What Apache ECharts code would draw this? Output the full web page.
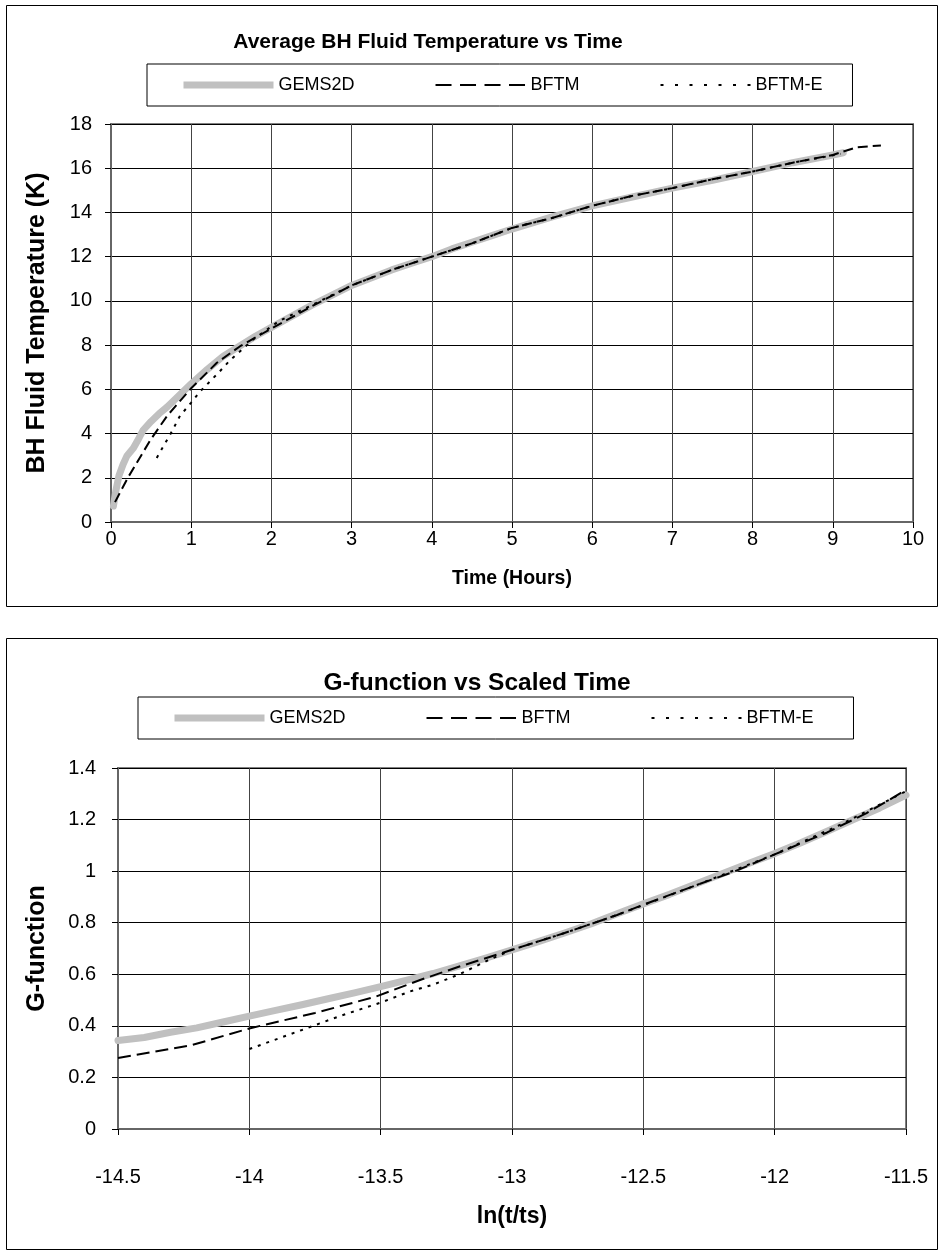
<!DOCTYPE html>
<html>
<head>
<meta charset="utf-8">
<script src="https://cdn.jsdelivr.net/npm/echarts@6/dist/echarts.min.js"></script>
<style>
  html, body { margin: 0; padding: 0; background: #fff; }
  #chart { width: 943px; height: 1253px; }
</style>
</head>
<body>
<div id="chart"></div>
<script>
const seriesNames = ['GEMS2D', 'BFTM', 'BFTM-E'];

// Average borehole fluid temperature (K) against time (hours)
const tempGems2d = [
  [0.03, 0.72], [0.06, 1.4], [0.1, 2.1], [0.15, 2.6], [0.2, 3.0], [0.28, 3.35],
  [0.35, 3.8], [0.4, 4.15], [0.5, 4.55], [0.6, 4.9], [0.7, 5.2], [0.8, 5.55],
  [0.9, 5.9], [1.0, 6.25], [1.2, 6.9], [1.4, 7.5], [1.6, 7.95], [1.8, 8.4],
  [2.0, 8.8], [2.25, 9.3], [2.5, 9.8], [2.75, 10.25], [3.0, 10.7], [3.25, 11.05],
  [3.5, 11.4], [3.75, 11.7], [4.0, 12.0], [4.25, 12.35], [4.5, 12.65], [4.75, 12.95],
  [5.0, 13.25], [5.5, 13.8], [6.0, 14.3], [6.5, 14.7], [7.0, 15.1], [7.5, 15.45],
  [8.0, 15.85], [8.5, 16.25], [9.0, 16.6], [9.13, 16.7]
];
const tempBftm = [
  [0.05, 0.9], [0.21, 2.0], [0.49, 3.7], [0.7, 4.8], [1.0, 6.05], [1.32, 7.2],
  [1.61, 7.95], [2.0, 8.75], [2.5, 9.75], [3.0, 10.7], [3.5, 11.4], [4.0, 12.0],
  [4.5, 12.6], [5.0, 13.3], [5.5, 13.75], [6.0, 14.3], [6.5, 14.75], [7.0, 15.1],
  [7.5, 15.5], [8.0, 15.85], [8.5, 16.25], [9.0, 16.6], [9.3, 16.95], [9.6, 17.03]
];
const tempBftmE = [
  [0.57, 2.9], [0.76, 4.1], [0.86, 4.8], [1.0, 5.4], [1.11, 5.9], [1.34, 6.75],
  [1.48, 7.3], [1.77, 8.25], [2.1, 9.1], [2.5, 9.8], [3.0, 10.7], [3.5, 11.4],
  [4.0, 12.0], [4.5, 12.6], [5.0, 13.3], [5.5, 13.75], [6.0, 14.3], [6.5, 14.75],
  [7.0, 15.1], [7.5, 15.5], [8.0, 15.85], [8.5, 16.25], [9.1, 16.65]
];

// G-function against scaled time ln(t/ts)
const gGems2d = [
  [-14.5, 0.343], [-14.4, 0.355], [-14.3, 0.375], [-14.2, 0.392], [-14.1, 0.415],
  [-14.0, 0.438], [-13.9, 0.46], [-13.8, 0.482], [-13.7, 0.505], [-13.6, 0.528],
  [-13.5, 0.552], [-13.4, 0.577], [-13.3, 0.603], [-13.2, 0.633], [-13.1, 0.663],
  [-13.0, 0.695], [-12.9, 0.727], [-12.8, 0.76], [-12.7, 0.795], [-12.6, 0.835],
  [-12.5, 0.873], [-12.4, 0.91], [-12.3, 0.95], [-12.2, 0.99], [-12.1, 1.03],
  [-12.0, 1.068], [-11.9, 1.11], [-11.8, 1.155], [-11.7, 1.2], [-11.6, 1.245],
  [-11.5, 1.295]
];
const gBftm = [
  [-14.5, 0.275], [-14.22, 0.325], [-14.0, 0.39], [-13.75, 0.45], [-13.52, 0.513],
  [-13.35, 0.578], [-13.2, 0.63], [-13.0, 0.695], [-12.8, 0.76], [-12.6, 0.83],
  [-12.5, 0.87], [-12.3, 0.945], [-12.15, 1.0], [-12.0, 1.065], [-11.8, 1.15],
  [-11.65, 1.225], [-11.5, 1.315]
];
const gBftmE = [
  [-14.0, 0.31], [-13.8, 0.384], [-13.65, 0.44], [-13.5, 0.49], [-13.39, 0.533],
  [-13.3, 0.56], [-13.2, 0.6], [-13.09, 0.655], [-13.0, 0.695], [-12.8, 0.76],
  [-12.6, 0.83], [-12.3, 0.945], [-12.0, 1.065], [-11.75, 1.18], [-11.5, 1.31]
];

const FONT = "'Liberation Sans', Arial, sans-serif";
const GREY = '#c0c0c0';

// line styles for each panel: [GEMS2D, BFTM, BFTM-E]
function panelStyles(dash) {
  return [
    { color: GREY, width: 7, type: 'solid', cap: 'round', join: 'round' },
    { color: '#000', width: 2, type: dash },
    { color: '#000', width: 2, type: [3, 6] }
  ];
}

function makeSeries(idx, sets, styles) {
  return sets.map((data, k) => ({
    name: seriesNames[k],
    type: 'line',
    xAxisIndex: idx,
    yAxisIndex: idx,
    data: data,
    symbol: 'none',
    silent: true,
    z: 2 + k,
    lineStyle: styles[k],
    itemStyle: { color: styles[k].color }
  }));
}

function xAxisCfg(idx, min, max, interval, name, nameSize, labelMargin, nameGap) {
  return {
    type: 'value', gridIndex: idx, min: min, max: max, interval: interval,
    name: name, nameLocation: 'middle', nameGap: nameGap,
    nameTextStyle: { fontFamily: FONT, fontSize: nameSize, fontWeight: 'bold', color: '#000' },
    axisLine: { show: true, onZero: false, lineStyle: { color: '#666', width: 2 } },
    axisTick: { show: true, length: 6, lineStyle: { color: '#000', width: 1 } },
    axisLabel: { fontFamily: FONT, fontSize: 20, color: '#000', margin: labelMargin },
    splitLine: { show: true, lineStyle: { color: '#444', width: 1 } }
  };
}

function yAxisCfg(idx, min, max, interval, name, labelMargin, nameGap) {
  return {
    type: 'value', gridIndex: idx, min: min, max: max, interval: interval,
    name: name, nameLocation: 'middle', nameGap: nameGap, nameRotate: 90,
    nameTextStyle: { fontFamily: FONT, fontSize: 25, fontWeight: 'bold', color: '#000' },
    axisLine: { show: true, onZero: false, lineStyle: { color: '#666', width: 2 } },
    axisTick: { show: true, length: 6, lineStyle: { color: '#000', width: 1 } },
    axisLabel: { fontFamily: FONT, fontSize: 20, color: '#000', margin: labelMargin },
    splitLine: { show: true, lineStyle: { color: '#000', width: 1 } }
  };
}

function legendCfg(left, top, padding) {
  return {
    left: left, top: top,
    data: [
      { name: 'GEMS2D', lineStyle: { cap: 'butt' } },
      { name: 'BFTM', lineStyle: { type: [16, 8.5] } },
      { name: 'BFTM-E', lineStyle: { type: [3, 11.5] } }
    ],
    padding: padding, itemGap: 80,
    itemWidth: 90, itemHeight: 14,
    borderColor: '#000', borderWidth: 1,
    selectedMode: false,
    itemStyle: { opacity: 0 },
    lineStyle: { width: 'inherit' },
    textStyle: { fontFamily: FONT, fontSize: 18, color: '#000' }
  };
}

const option = {
  backgroundColor: '#fff',
  animation: false,
  title: [
    { text: 'Average BH Fluid Temperature vs Time', left: 428, top: 32, padding: 0, textAlign: 'center',
      textStyle: { fontFamily: FONT, fontSize: 21, fontWeight: 'bold', color: '#000' } },
    { text: 'G-function vs Scaled Time', left: 477, top: 671, padding: 0, textAlign: 'center',
      textStyle: { fontFamily: FONT, fontSize: 24.5, fontWeight: 'bold', color: '#000' } }
  ],
  legend: [
    legendCfg(147, 64, [12, 30, 12, 33]),
    legendCfg(138, 697, [12, 40, 12, 33])
  ],
  grid: [
    { left: 111, top: 124, width: 802, height: 398, show: true, borderColor: '#808080', borderWidth: 2, backgroundColor: '#fff' },
    { left: 118, top: 768, width: 788, height: 361, show: true, borderColor: '#808080', borderWidth: 2, backgroundColor: '#fff' }
  ],
  xAxis: [
    xAxisCfg(0, 0, 10, 1, 'Time (Hours)', 19.5, 7, 47),
    xAxisCfg(1, -14.5, -11.5, 0.5, 'ln(t/ts)', 23, 38, 76)
  ],
  yAxis: [
    yAxisCfg(0, 0, 18, 2, 'BH Fluid Temperature (K)', 19, 61),
    yAxisCfg(1, 0, 1.4, 0.2, 'G-function', 22, 68)
  ],
  graphic: [
    { type: 'rect', shape: { x: 6.5, y: 5.5, width: 931, height: 601 },
      style: { fill: null, stroke: '#000', lineWidth: 1 }, silent: true },
    { type: 'rect', shape: { x: 6.5, y: 638.5, width: 931, height: 611 },
      style: { fill: null, stroke: '#000', lineWidth: 1 }, silent: true }
  ],
  series: [
    ...makeSeries(0, [tempGems2d, tempBftm, tempBftmE], panelStyles([10, 5])),
    ...makeSeries(1, [gGems2d, gBftm, gBftmE], panelStyles([13, 6]))
  ]
};

const chart = echarts.init(document.getElementById('chart'), null, { renderer: 'canvas' });
chart.setOption(option);
</script>
</body>
</html>
